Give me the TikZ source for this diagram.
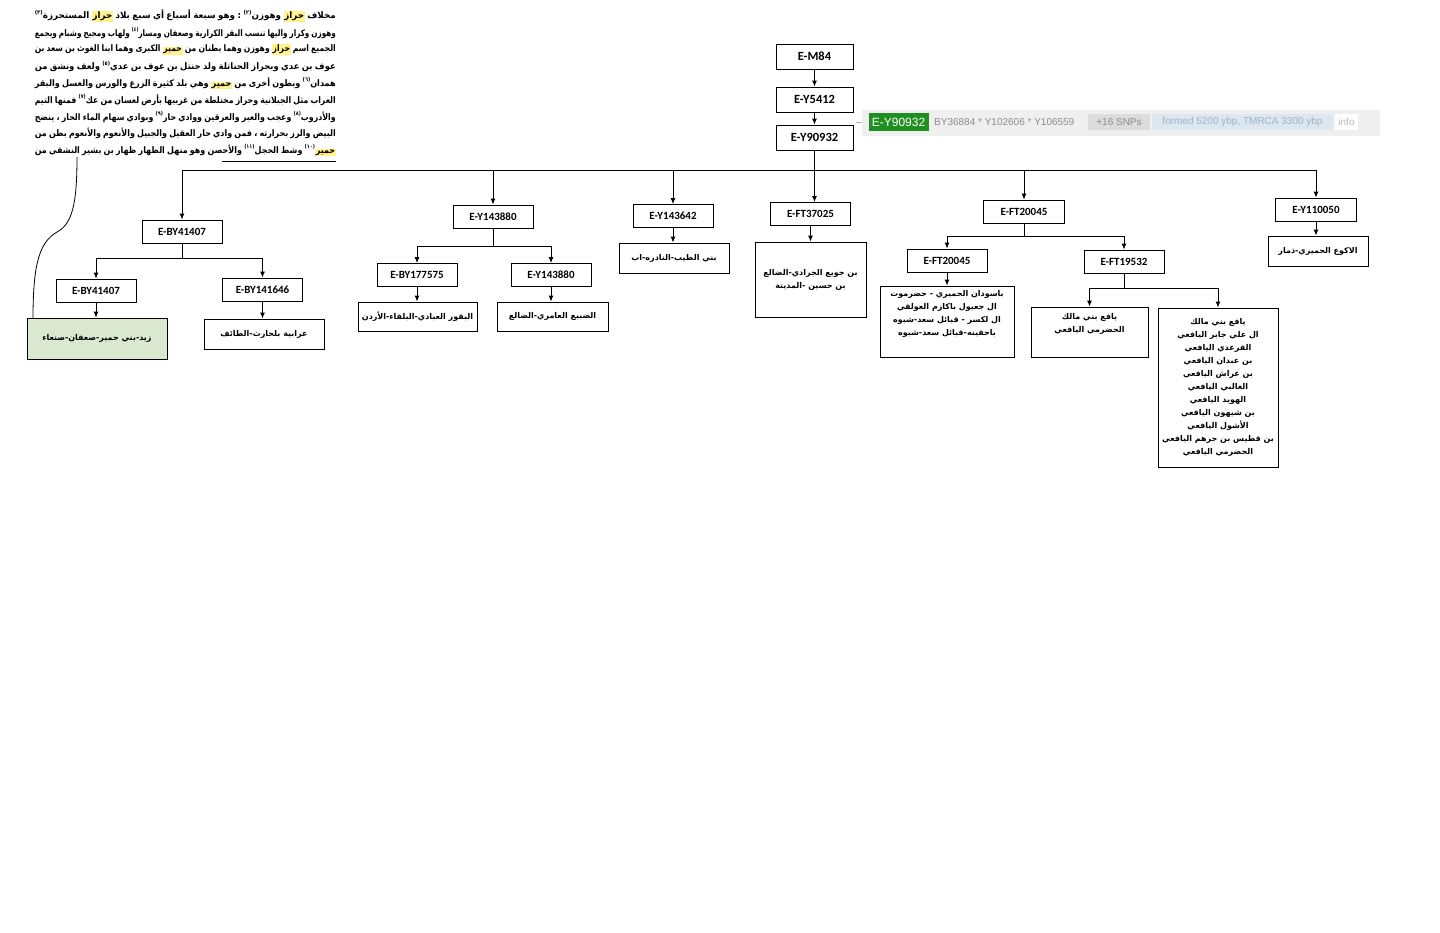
\documentclass[tikz,border=0pt]{standalone}
\usepackage{fontspec}
\usepackage{graphicx}
\usetikzlibrary{arrows.meta}
\TeXXeTstate=1
\setmainfont{Carlito}
\newfontfamily\arabfont[Script=Arabic]{DejaVu Sans}
\newfontfamily\barfont{Liberation Sans}
\definecolor{hlyel}{HTML}{FFF38A}
\definecolor{leafgreen}{HTML}{DAE8CF}
\definecolor{tagGreen}{HTML}{1F8F1F}
\definecolor{barbg}{HTML}{EFEFEF}
\definecolor{snpbg}{HTML}{DCDCDC}
\definecolor{agebg}{HTML}{DCE7F0}
\definecolor{agetext}{HTML}{9DB2C4}
\definecolor{bartext}{HTML}{8C8C8C}
\newlength\parw
\setlength\parw{301pt}
\newsavebox\linebox
\newcommand\parfont{\arabfont\bfseries\fontsize{9}{11}\selectfont}
% word reversal: words are given in reading order (right to left) and set
% left to right in reversed order, so that highlight boxes keep their colours
\newtoks\revtoks
\newtoks\revword
\def\revstopmark{\revstop{}}
\newcommand\wsp{\hskip 0.28em plus 1fil minus 0.05em\relax}
\def\revloop#1 {\def\revtmp{#1}\ifx\revtmp\revstopmark\else\revpush{#1}\expandafter\revloop\fi}
\def\revpush#1{\revword={#1\wsp}\edef\revx{\the\revword\the\revtoks}\revtoks=\expandafter{\revx}}
\newcommand\fitline[1]{%
  \revtoks={}\revloop#1 \revstop{} %
  \sbox\linebox{\the\revtoks\unskip}%
  \ifdim\wd\linebox>\parw
    \resizebox{\parw}{\height}{\usebox\linebox}%
  \else
    \hbox to \parw{\the\revtoks\unskip}%
  \fi}
\newcommand\hl[1]{\hbox{\setlength\fboxsep{0.8pt}\colorbox{hlyel}{#1}}}
\newcommand\fnm[1]{\hbox{\raisebox{0.9ex}{\fontsize{5.5}{6}\selectfont(#1)}}}
\newcommand\rl[1]{\beginR #1\endR}
\newcommand\fork[4]{%
  \coordinate (tmpj) at (0,#2);
  \draw[ln] (#1.south) -- (#1.south |- tmpj);
  \draw[ln] (#3.north |- tmpj) -- (#4.north |- tmpj);
  \draw[arr] (#3.north |- tmpj) -- (#3.north);
  \draw[arr] (#4.north |- tmpj) -- (#4.north);}
\begin{document}
\begin{tikzpicture}[x=1pt,y=-1pt,
  ln/.style={line width=0.9pt},
  arr/.style={line width=0.9pt,-{Latex[length=6pt,width=5pt]}},
  snp/.style={draw,line width=0.9pt,font=\bfseries\fontsize{11}{13}\selectfont,minimum width=80pt,minimum height=23pt,inner sep=0pt},
  topbox/.style={snp,minimum width=77pt,minimum height=25pt,font=\bfseries\fontsize{12.5}{14}\selectfont},
  leaf/.style={draw,line width=0.9pt,font=\arabfont\bfseries\fontsize{8}{13}\selectfont,align=center,inner sep=0pt},
  leafbox/.style={draw,line width=0.9pt,inner sep=0pt},
  leaftext/.style={font=\arabfont\bfseries\fontsize{8}{13}\selectfont,align=center,inner sep=0pt},
  pline/.style={anchor=east,inner sep=0pt,font=\parfont},
  bar/.style={inner sep=0pt,minimum height=16pt,font=\barfont\fontsize{10}{12}\selectfont}]
\fill[white] (0,0) rectangle (1440,932);
\useasboundingbox (0,0) rectangle (1440,932);

% paragraph
\node[pline] (p1) at (336,16) {\fitline{مخلاف \hl{حراز} \fnm{٢}وهوزن : وهو سبعة أسباع أي سبع بلاد \hl{حراز} \fnm{٣}المستحرزة}};
\node[pline] (p2) at (336,32.8) {\fitline{وهوزن وكرار واليها تنسب البقر الكرارية وصعفان \fnm{٤}ومسار ولهاب ومجيح وشبام ويجمع}};
\node[pline] (p3) at (336,49.6) {\fitline{الجميع اسم \hl{حراز} وهوزن وهما بطنان من \hl{حمير} الكبرى وهما ابنا الغوث بن سعد بن}};
\node[pline] (p4) at (336,66.4) {\fitline{عوف بن عدي وبحراز الحناتلة ولد حنتل بن عوف بن \fnm{٥}عدي ولعف ونشق من}};
\node[pline] (p5) at (336,83.2) {\fitline{\fnm{٦}همدان وبطون أخرى من \hl{حمير} وهي بلد كثيرة الزرع والورس والعسل والبقر}};
\node[pline] (p6) at (336,100) {\fitline{العراب مثل الجبلانية وحراز مختلطة من غربيها بأرض لعسان من \fnm{٧}عك فمنها التيم}};
\node[pline] (p7) at (336,116.8) {\fitline{\fnm{٨}والأدروب وعجب والعبر والعرقين ووادي \fnm{٩}حار وبوادي سهام الماء الحار ، ينضج}};
\node[pline] (p8) at (336,133.6) {\fitline{البيض والرز بحرارته ، فمن وادي حار العقيل والجبيل والأنعوم والأنعوم بطن من}};
\node[pline] (p9) at (336,150.4) {\fitline{\fnm{١٠}\hl{حمير} وشط \fnm{١١}الحجل والأحصن وهو منهل الظهار ظهار بن بشير النشقي من}};
\coordinate (ulL) at (222,161);
\coordinate (ulR) at (336,161);
\draw[line width=0.8pt] (ulL) -- (ulR);

% info bar
\fill[barbg] (862,110) rectangle (1380,136);
\coordinate (dashL) at (856,122);
\coordinate (dashR) at (862,122);
\draw[gray!60,line width=0.6pt] (dashL) -- (dashR);
\node[bar,fill=tagGreen,text=white,minimum width=60pt,minimum height=18pt,font=\barfont\fontsize{12}{14}\selectfont] (tag) at (898.5,122) {E-Y90932};
\node[bar,anchor=west,text=bartext] (snps) at (934,122) {BY36884 * Y102606 * Y106559};
\node[bar,fill=snpbg,text=bartext,minimum width=62pt] (plus) at (1119,122) {+16 SNPs};
\node[bar,fill=agebg,text=agetext,minimum width=181pt] (age) at (1242.5,122) {formed 5200 ybp, TMRCA 3300 ybp};
\node[bar,fill=white,text=gray!55,minimum width=23pt] (info) at (1346.5,122) {info};

% tree nodes
\node[topbox] (m84) at (814.5,56.5) {E-M84};
\node[topbox] (y5412) at (814.5,99.5) {E-Y5412};
\node[topbox] (y90932) at (814.5,137.5) {E-Y90932};

\node[snp] (by41407a) at (182,231.5) {E-BY41407};
\node[snp] (y143880a) at (493,216.5) {E-Y143880};
\node[snp] (y143642) at (673,216) {E-Y143642};
\node[snp] (ft37025) at (810.5,214) {E-FT37025};
\node[snp,minimum width=81pt] (ft20045a) at (1024,211.5) {E-FT20045};
\node[snp,minimum width=81pt] (y110050) at (1316,209.5) {E-Y110050};

\node[snp] (by41407b) at (96,290.5) {E-BY41407};
\node[snp] (by141646) at (262.5,289.5) {E-BY141646};
\node[snp] (by177575) at (417,275) {E-BY177575};
\node[snp] (y143880b) at (551,275) {E-Y143880};
\node[snp] (ft20045b) at (947,260.5) {E-FT20045};
\node[snp] (ft19532) at (1124,261.5) {E-FT19532};

\node[leaf,fill=leafgreen,minimum width=140pt,minimum height=41pt] (lzayd) at (97,338.5) {\rl{زيد-بني حمير-صعفان-صنعاء}};
\node[leaf,minimum width=120pt,minimum height=30pt] (larab) at (264,334) {\rl{عرابية بلحارث-الطائف}};
\node[leaf,minimum width=119pt,minimum height=29pt] (lbuq) at (417.5,316.5) {\rl{البقور العبادي-البلقاء-الأردن}};
\node[leaf,minimum width=111pt,minimum height=29pt] (ldub) at (552.5,316.5) {\rl{الضبيع العامري-الضالع}};
\node[leaf,minimum width=110pt,minimum height=30pt] (ltay) at (674,258) {\rl{بني الطيب-النادره-اب}};
\node[leaf,minimum width=111pt,minimum height=75pt] (ljuw) at (810.5,279.5) {\rl{بن جويع الجرادي-الضالع}\\\rl{بن حسين -المدينة}};
\node[leafbox,minimum width=134pt,minimum height=71pt] (lbas) at (947,321.5) {};
\node[leaftext,anchor=north] (tbas) at (947,290) {\rl{باسودان الحميري - حضرموت}\\\rl{ال جعيول باكازم العولقي}\\\rl{ال لكسر - قبائل سعد-شبوه}\\\rl{باحقينه-قبائل سعد-شبوه}};
\node[leafbox,minimum width=117pt,minimum height=50pt] (lyam) at (1089.5,332) {};
\node[leaftext,anchor=north] (tyam) at (1089.5,313) {\rl{يافع بني مالك}\\\rl{الحضرمي اليافعي}};
\node[leaf,minimum width=120pt,minimum height=159pt] (lyb) at (1218,387.5) {\rl{يافع بني مالك}\\\rl{ال علي جابر اليافعي}\\\rl{القرعدي اليافعي}\\\rl{بن عبدان اليافعي}\\\rl{بن عراش اليافعي}\\\rl{الغالبي اليافعي}\\\rl{الهويد اليافعي}\\\rl{بن شيهون اليافعي}\\\rl{الأشول اليافعي}\\\rl{بن قطيس بن جرهم اليافعي}\\\rl{الحضرمي اليافعي}};
\node[leaf,minimum width=100pt,minimum height=30pt] (lakw) at (1318,251) {\rl{الاكوع الحميري-ذمار}};

% connectors
\draw[arr] (m84) -- (y5412);
\draw[arr] (y5412) -- (y90932);
\coordinate (j0) at (814.5,170);
\coordinate (j0L) at (182,170);
\coordinate (j0R) at (1316,170);
\draw[ln] (y90932.south) -- (j0);
\draw[ln] (j0L) -- (j0R);
\draw[arr] (j0L) -- (by41407a.north);
\draw[arr] (j0 -| y143880a.north) -- (y143880a.north);
\draw[arr] (j0 -| y143642.north) -- (y143642.north);
\draw[arr] (j0) -- (j0 |- ft37025.north);
\draw[arr] (j0 -| ft20045a.north) -- (ft20045a.north);
\draw[arr] (j0R) -- (y110050.north);

\fork{by41407a}{258}{by41407b}{by141646}
\fork{y143880a}{246}{by177575}{y143880b}
\fork{ft20045a}{236}{ft20045b}{ft19532}
\fork{ft19532}{288}{lyam}{lyb}

\draw[arr] (by41407b.south) -- (by41407b.south |- lzayd.north);
\draw[arr] (by141646.south) -- (by141646.south |- larab.north);
\draw[arr] (by177575.south) -- (by177575.south |- lbuq.north);
\draw[arr] (y143880b.south) -- (y143880b.south |- ldub.north);
\draw[arr] (y143642.south) -- (y143642.south |- ltay.north);
\draw[arr] (ft37025.south) -- (ft37025.south |- ljuw.north);
\draw[arr] (ft20045b.south) -- (ft20045b.south |- lbas.north);
\draw[arr] (y110050.south) -- (y110050.south |- lakw.north);

% curve from text to green box
\coordinate (cs) at (77,157);
\coordinate (cm) at (57,232);
\coordinate (ce) at (33,318);
\draw[line width=0.8pt] (cs) .. controls (77,205) and (72,224) .. (cm) .. controls (40,242) and (33,262) .. (ce);
\end{tikzpicture}
\end{document}
